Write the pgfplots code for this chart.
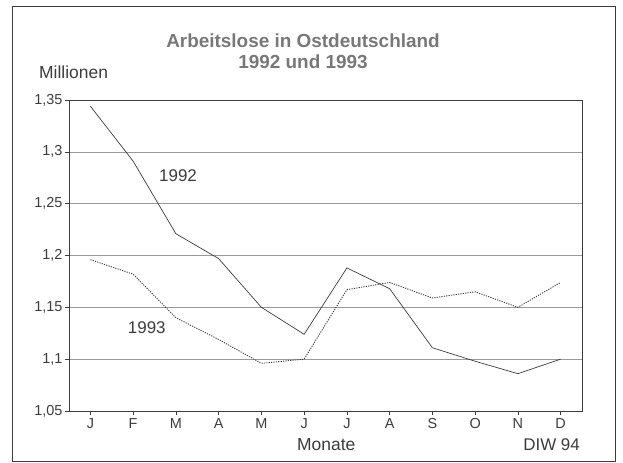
\documentclass[border=0pt]{standalone}
\usepackage{pgfplots}
\pgfplotsset{compat=1.18}
\usepackage{fontspec}
\setmainfont{Liberation Sans}
\definecolor{ink}{RGB}{60,60,60}
\definecolor{titlegrey}{RGB}{120,120,120}
\begin{document}
\begin{tikzpicture}[x=1bp,y=1bp]
\begin{axis}[
  at={(69bp,52bp)}, anchor=south west,
  scale only axis, width=513bp, height=311bp,
  xmin=0.5, xmax=12.5, ymin=1.05, ymax=1.35,
  xtick={1,...,12},
  xticklabels={J,F,M,A,M,J,J,A,S,O,N,D},
  ytick={1.05,1.1,1.15,1.2,1.25,1.3,1.35},
  /pgf/number format/use comma,
  /pgf/number format/assume math mode=true,
  tick label style={font=\fontsize{14.5}{15}\selectfont, text=ink},
  yticklabel style={xshift=1bp},
  tick align=outside, tick pos=left,
  major tick length=4bp,
  ymajorgrids, grid style={gray!80, line width=0.6pt},
  axis line style={ink, line width=0.7pt},
  every tick/.style={ink, line width=0.6pt},
  clip=false,
]
\addplot[ink, line width=0.7pt] coordinates {
 (1,1.344) (2,1.291) (3,1.221) (4,1.197) (5,1.150) (6,1.124)
 (7,1.188) (8,1.168) (9,1.111) (10,1.098) (11,1.086) (12,1.100)};
\addplot[ink, line width=0.9pt, dash pattern=on 1.2pt off 1.2pt] coordinates {
 (1,1.196) (2,1.182) (3,1.140) (4,1.119) (5,1.096) (6,1.100)
 (7,1.167) (8,1.174) (9,1.159) (10,1.165) (11,1.150) (12,1.174)};
\node[text=ink, font=\fontsize{17}{18}\selectfont] at (axis cs:3.05,1.277) {1992};
\node[text=ink, font=\fontsize{17}{18}\selectfont] at (axis cs:2.32,1.130) {1993};
\end{axis}
% outer frame and texts (picture coordinates in bp, origin at bottom-left; image height 463)
\draw[ink, line width=0.8pt] (12,2) rectangle (615,457);
\node[text=titlegrey, font=\bfseries\fontsize{19}{20}\selectfont] at (303,422) {Arbeitslose in Ostdeutschland};
\node[text=titlegrey, font=\bfseries\fontsize{19}{20}\selectfont] at (303,401) {1992 und 1993};
\node[text=ink, font=\fontsize{17.5}{18}\selectfont, anchor=west, inner sep=0pt] at (39,391) {Millionen};
\node[text=ink, font=\fontsize{17.5}{18}\selectfont, anchor=west, inner sep=0pt] at (297,18) {Monate};
\node[text=ink, font=\fontsize{17}{18}\selectfont, anchor=east, inner sep=0pt] at (580,18) {DIW 94};
\path (0,0) rectangle (623,463);
\end{tikzpicture}
\end{document}
